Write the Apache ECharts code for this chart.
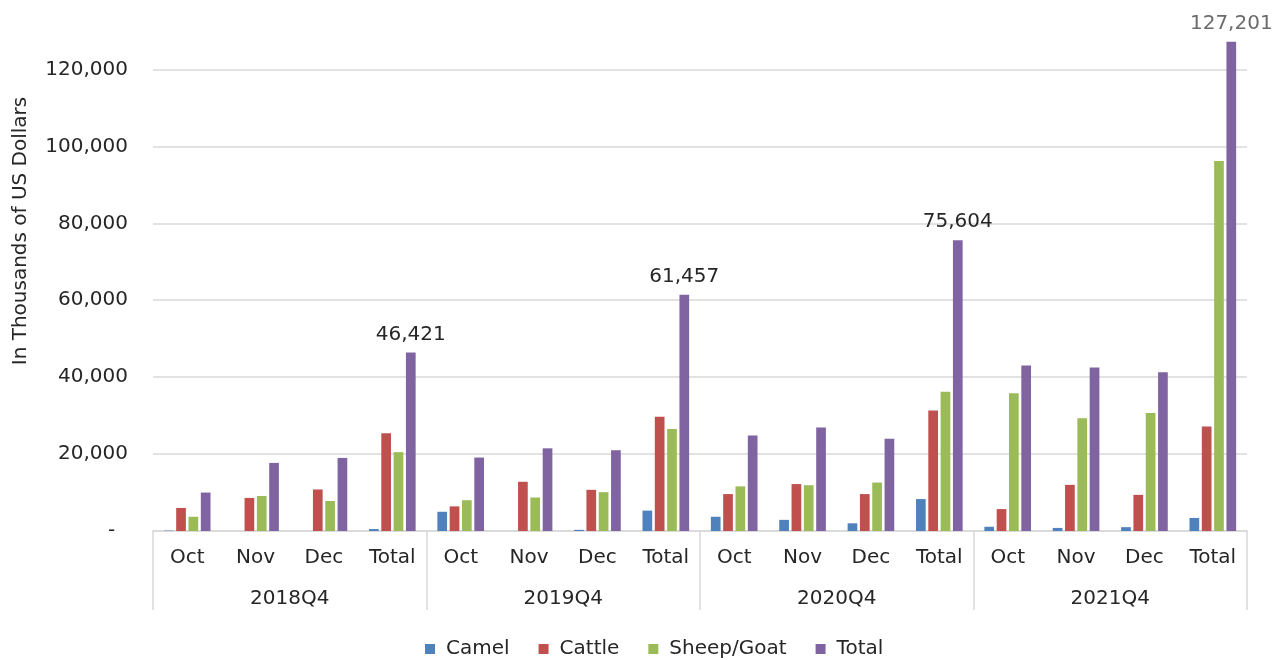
<!DOCTYPE html>
<html>
<head>
<meta charset="utf-8">
<script src="https://cdn.jsdelivr.net/npm/echarts@6/dist/echarts.min.js"></script>
<style>
  html, body { margin: 0; padding: 0; background: #ffffff; }
  #chart { width: 1278px; height: 660px; }
</style>
</head>
<body>
<div id="chart"></div>
<script>
// Monthly and quarterly values, in thousands of US dollars
const categories = ['Oct', 'Nov', 'Dec', 'Total', 'Oct', 'Nov', 'Dec', 'Total',
                    'Oct', 'Nov', 'Dec', 'Total', 'Oct', 'Nov', 'Dec', 'Total'];
const quarters = ['2018Q4', '2019Q4', '2020Q4', '2021Q4'];
const seriesNames = ['Camel', 'Cattle', 'Sheep/Goat', 'Total'];

const camel  = [100, 0, 0, 500,      5000, 0, 300, 5300,      3700, 2900, 2000, 8300,      1100, 800, 1000, 3400];
const cattle = [6000, 8600, 10800, 25400,   6400, 12800, 10700, 29700,   9600, 12200, 9600, 31300,   5700, 12000, 9400, 27200];
const sheep  = [3700, 9100, 7800, 20500,    8000, 8700, 10100, 26500,    11600, 11900, 12600, 36200,  35800, 29300, 30700, 96200];
const total  = [10000, 17700, 19000, 46421, 19100, 21500, 21000, 61457,  24800, 26900, 24000, 75604,  43000, 42500, 41300, 127201];

const yTicks = { min: 0, max: 130000, step: 20000 };

const FONT = 'DejaVu Sans';
const TEXT = '#262626';
const GRID = '#d9d9d9';
const colors = ['#4f81bd', '#c0504d', '#9bbb59', '#8064a2'];

const fmt = v => v.toLocaleString('en-US');

// Only the quarter totals carry a value label
const totalData = total.map((v, i) => {
  if (i % 4 !== 3) return v;
  return {
    value: v,
    label: { show: true, color: i === total.length - 1 ? '#6b6b6b' : TEXT }
  };
});

const barCommon = {
  type: 'bar',
  barWidth: 9.7,
  barGap: '27%',
  xAxisIndex: 0,
  yAxisIndex: 0
};

const chart = echarts.init(document.getElementById('chart'), null, { renderer: 'canvas' });

chart.setOption({
  animation: false,
  color: colors,
  textStyle: { fontFamily: FONT },
  grid: { left: 153, right: 31, top: 31, bottom: 129, containLabel: false },
  legend: {
    top: 634,
    left: 420,
    icon: 'rect',
    itemWidth: 10,
    itemHeight: 10,
    itemGap: 29,
    textStyle: { fontFamily: FONT, fontSize: 20, color: TEXT, padding: [0, 0, 0, 6] },
    data: seriesNames
  },
  xAxis: [
    {
      type: 'category',
      data: categories,
      position: 'bottom',
      axisLine: { show: true, lineStyle: { color: GRID, width: 1.5 } },
      axisTick: { show: false },
      axisLabel: { interval: 0, margin: 17, fontFamily: FONT, fontSize: 20, color: TEXT }
    },
    {
      type: 'category',
      data: quarters,
      position: 'bottom',
      offset: 0,
      axisLine: { show: false },
      axisTick: { show: true, length: 79, lineStyle: { color: GRID, width: 1.5 } },
      axisLabel: { interval: 0, margin: 58, fontFamily: FONT, fontSize: 20, color: TEXT },
      splitLine: { show: false }
    }
  ],
  yAxis: {
    type: 'value',
    min: yTicks.min,
    max: yTicks.max,
    interval: yTicks.step,
    axisLine: { show: false },
    axisTick: { show: false },
    axisLabel: {
      margin: 25,
      fontFamily: FONT,
      fontSize: 20,
      color: TEXT,
      showMaxLabel: false,
      formatter: v => (v === 0 ? '-  ' : (v % yTicks.step === 0 ? fmt(v) : ''))
    },
    splitLine: { show: true, showMaxLine: false, lineStyle: { color: GRID, width: 1.5 } }
  },
  graphic: [
    {
      type: 'text',
      x: 21,
      y: 231,
      rotation: Math.PI / 2,
      style: {
        text: 'In Thousands of US Dollars',
        fontFamily: FONT,
        fontSize: 20,
        fill: TEXT,
        textAlign: 'center',
        textVerticalAlign: 'middle'
      }
    }
  ],
  series: [
    Object.assign({}, barCommon, { name: seriesNames[0], data: camel }),
    Object.assign({}, barCommon, { name: seriesNames[1], data: cattle }),
    Object.assign({}, barCommon, { name: seriesNames[2], data: sheep }),
    Object.assign({}, barCommon, {
      name: seriesNames[3],
      data: totalData,
      label: {
        show: false,
        position: 'top',
        distance: 8,
        fontFamily: FONT,
        fontSize: 20,
        formatter: p => fmt(p.value)
      }
    })
  ]
});
</script>
</body>
</html>
